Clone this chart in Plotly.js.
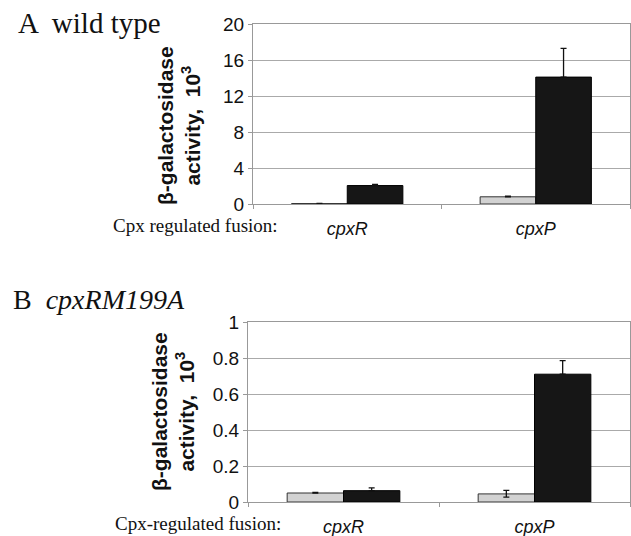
<!DOCTYPE html>
<html><head><meta charset="utf-8">
<script src="https://cdn.plot.ly/plotly-3.0.1.min.js"></script>
<style>body{margin:0;background:#fff}#c{width:631px;height:536px}</style>
</head><body><div id="c"></div>
<script>
const categories = ['cpxR', 'cpxP'];
const catLabels = ['<i>cpxR</i>', '<i>cpxP</i>'];
// Panel A: wild type
const wtGray = [0.05, 0.8];
const wtGrayErr = [0.02, 0.08];
const wtBlack = [2.05, 14.1];
const wtBlackErr = [0.12, 3.2];
// Panel B: cpxRM199A
const mGray = [0.05, 0.045];
const mGrayErrPlus = [0.004, 0.02];
const mGrayErrMinus = [0, 0.018];
const mBlack = [0.063, 0.71];
const mBlackErr = [0.015, 0.075];
const yTicksA = [0, 4, 8, 12, 16, 20];
const yTicksB = [0, 0.2, 0.4, 0.6, 0.8, 1];
const yTickTextB = ['0', '0.2', '0.4', '0.6', '0.8', '1'];

const grayStyle = {color: '#d2d2d2', line: {color: '#333', width: 1}};
const blackStyle = {color: '#161616', line: {color: '#000', width: 1}};
const eb = (arr, minus) => ({type: 'data', symmetric: false, array: arr, arrayminus: minus || arr.map(() => 0), color: '#111', thickness: 1.3, width: 3});

const traces = [
  {type: 'bar', x: categories, y: wtGray, marker: grayStyle, error_y: eb(wtGrayErr), xaxis: 'x', yaxis: 'y'},
  {type: 'bar', x: categories, y: wtBlack, marker: blackStyle, error_y: eb(wtBlackErr), xaxis: 'x', yaxis: 'y'},
  {type: 'bar', x: categories, y: mGray, marker: grayStyle, error_y: eb(mGrayErrPlus, mGrayErrMinus), xaxis: 'x2', yaxis: 'y2'},
  {type: 'bar', x: categories, y: mBlack, marker: blackStyle, error_y: eb(mBlackErr), xaxis: 'x2', yaxis: 'y2'}
];

const sans = 'Liberation Sans, Arial, sans-serif';
const serif = 'Liberation Serif, Times New Roman, serif';
const W = 631, H = 536;
const xax = (l, r) => ({domain: [l / W, r / W], tickson: 'boundaries', ticks: 'outside', ticklen: 4, tickcolor: '#999',
  showline: true, mirror: true, linecolor: '#999', linewidth: 1, showgrid: false,
  tickvals: categories, ticktext: catLabels, tickfont: {family: sans, size: 18, color: '#111'}, ticklabelstandoff: 8, fixedrange: true});
const yax = (top, bot, ticks, text) => ({domain: [1 - bot / H, 1 - top / H], range: [0, ticks[ticks.length - 1]],
  tickvals: ticks, ticktext: text, ticks: 'outside', ticklen: 4, tickcolor: '#999',
  showline: true, mirror: true, linecolor: '#999', linewidth: 1, showgrid: true, gridcolor: '#aaa', gridwidth: 1,
  zeroline: false, tickfont: {family: sans, size: 19, color: '#111'}});

const ytitle = '<b>β-galactosidase<br>activity,  10<sup>3</sup></b>';
const ann = (text, x, y, size, family, anchor, extra) => Object.assign({text: text, x: x / W, y: 1 - y / H, xref: 'paper', yref: 'paper',
  xanchor: anchor, yanchor: 'middle', showarrow: false, font: {family: family, size: size, color: '#111'}}, extra || {});
const layout = {
  width: W, height: H, margin: {l: 0, r: 0, t: 0, b: 0}, showlegend: false,
  paper_bgcolor: '#fff', plot_bgcolor: '#fff', barmode: 'group', bargap: 0.41, bargroupgap: 0,
  xaxis: xax(253, 630), yaxis: yax(24, 204, yTicksA, yTicksA.map(String)),
  xaxis2: Object.assign(xax(248, 630), {anchor: 'y2'}), yaxis2: Object.assign(yax(322, 502, yTicksB, yTickTextB), {anchor: 'x2'}),
  annotations: [
    ann('A  wild type', 16, 23, 29, serif, 'left'),
    ann('B  <i>cpxRM199A</i>', 11, 299, 28, serif, 'left'),
    ann('Cpx regulated fusion:', 280, 226, 19, serif, 'right'),
    ann('Cpx-regulated fusion:', 283, 523, 19, serif, 'right'),
    ann(ytitle, 179, 126, 21, sans, 'center', {textangle: -90}),
    ann(ytitle, 173, 412, 21, sans, 'center', {textangle: -90})
  ]
};
Plotly.newPlot('c', traces, layout, {staticPlot: true});
</script></body></html>
